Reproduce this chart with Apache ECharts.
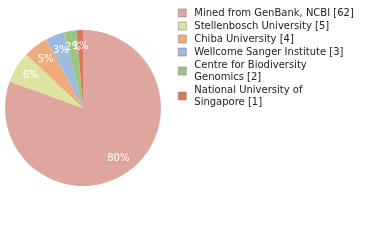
<!DOCTYPE html>
<html><head><meta charset="utf-8">
<script src="https://cdn.jsdelivr.net/npm/echarts@6/dist/echarts.min.js"></script>
<style>html,body{margin:0;padding:0;background:#fff}#c{width:380px;height:240px}</style>
</head><body><div id="c"></div>
<script>
const names = ["Mined from GenBank, NCBI", "Stellenbosch University", "Chiba University", "Wellcome Sanger Institute", "Centre for Biodiversity\nGenomics", "National University of\nSingapore"];
const values = [62, 5, 4, 3, 2, 1];
const colors = ["#dfa69e", "#dde3a0", "#eead7a", "#9dbbe0", "#9dc57f", "#de7560"];

const total = values.reduce((a, b) => a + b, 0);
const data = names.map((n, i) => ({ name: n, value: values[i], itemStyle: { color: colors[i] } }));
const chart = echarts.init(document.getElementById('c'), null, { renderer: 'canvas' });
chart.setOption({
  animation: false,
  legend: {
    orient: 'vertical', left: 173, top: 2,
    itemWidth: 8, itemHeight: 8, itemGap: 1,
    icon: 'rect',
    itemStyle: { borderColor: '#888', borderWidth: 0.6 },
    textStyle: { fontFamily: 'DejaVu Sans', fontSize: 10, color: '#222', lineHeight: 12, padding: [0, 0, 0, 3] },
    formatter: function (n) { const i = names.indexOf(n); return n + ' [' + values[i] + ']'; },
    data: names
  },
  series: [{
    type: 'pie', center: [83, 108], radius: 78, startAngle: 90, clockwise: true,
    label: { show: false }, labelLine: { show: false }, silent: true,
    data: data
  }, {
    type: 'pie', center: [83, 108], radius: [39, 78], startAngle: 90, clockwise: true,
    silent: true, legendHoverLink: false,
    itemStyle: { color: 'rgba(0,0,0,0)' },
    labelLayout: { hideOverlap: false },
    avoidLabelOverlap: false,
    label: {
      show: true, position: 'inside', color: '#fff', fontFamily: 'DejaVu Sans', fontSize: 10,
      formatter: function (p) { return Math.floor(p.value / total * 100) + '%'; }
    },
    labelLine: { show: false },
    data: names.map((n, i) => ({ name: n + ' ', value: values[i] }))
  }]
});
</script></body></html>
